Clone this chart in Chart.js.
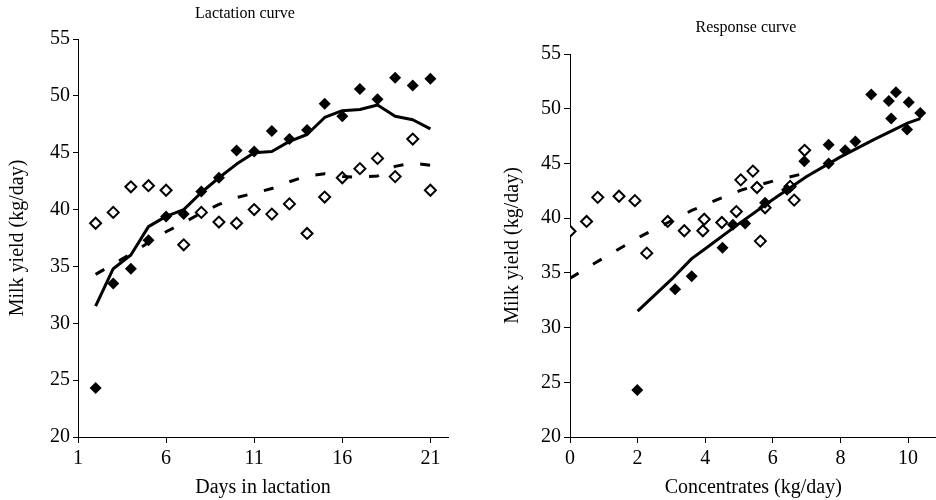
<!DOCTYPE html>
<html><head><meta charset="utf-8">
<script src="https://cdn.jsdelivr.net/npm/chart.js@4.4.1/dist/chart.umd.min.js"></script>
<style>
html,body{margin:0;padding:0;background:#fff;}
#wrap{position:relative;width:936px;height:500px;overflow:hidden;background:#fff;}
.c{position:absolute;top:0;width:468px;height:500px;}
</style></head><body>
<div id="wrap">
<div class="c" style="left:0"><canvas id="left"></canvas></div>
<div class="c" style="left:468px;width:476px"><canvas id="right"></canvas></div>
</div>
<script>
// ---------- Data: Lactation curve ----------
const lactDays = [2,3,4,5,6,7,8,9,10,11,12,13,14,15,16,17,18,19,20,21];
const lactFilled = [24.3,33.5,34.8,37.3,39.4,39.6,41.6,42.8,45.2,45.1,46.9,46.2,47.0,49.3,48.2,50.6,49.7,51.6,50.9,51.5];
const lactOpen = [38.8,39.75,42.0,42.1,41.7,36.9,39.75,38.9,38.8,40.0,39.6,40.5,37.9,41.1,42.8,43.6,44.5,42.9,46.2,41.7];
const lactFitFilled = [31.5,34.8,36.0,38.5,39.4,40.0,41.5,42.8,44.0,45.0,45.1,46.0,46.6,48.1,48.7,48.8,49.2,48.2,47.9,47.1];
const lactFitOpen = [34.3,35.2,36.1,37.1,38.05,38.85,39.7,40.45,41.05,41.45,41.85,42.45,42.95,43.15,42.9,42.85,42.95,43.8,44.1,43.9];
const lactXTicks = [1,6,11,16,21];
const yTicks = [20,25,30,35,40,45,50,55];

// ---------- Data: Response curve ----------
const respFilledConc = [1.99,3.11,3.6,4.51,4.82,5.18,5.77,6.42,6.93,7.65,7.65,8.14,8.44,8.91,9.43,9.5,9.64,9.97,10.02,10.36];
const respFilledYield = [24.3,33.5,34.7,37.3,39.4,39.5,41.4,42.6,45.2,45.0,46.7,46.2,47.0,51.3,50.7,49.1,51.5,48.1,50.6,49.6];
const respOpenConc = [0,0.49,0.82,1.45,1.92,2.27,2.89,3.38,3.93,3.97,4.49,4.92,5.05,5.41,5.53,5.63,5.77,6.51,6.63,6.94];
const respOpenYield = [38.8,39.7,41.9,42.0,41.6,36.8,39.7,38.85,38.85,39.9,39.6,40.6,43.5,44.3,42.8,37.9,40.95,42.9,41.65,46.2];
const respFitFilledConc = [2,3,3.6,4,5,6,7,8,9,10,10.36];
const respFitFilledYield = [31.5,34.4,36.3,37.2,39.5,41.7,43.8,45.6,47.2,48.7,49.1];
const respFitOpenConc = [0,0.74,1.46,2.16,2.9,3.6,4.32,5.1,6.02,6.94];
const respFitOpenYield = [34.5,35.9,37.2,38.45,39.6,40.7,41.65,42.6,43.4,44.1];
const respXTicks = [0,2,4,6,8,10];

const FONT = '"Liberation Serif", "Times New Roman", serif';
const tickFont = {family: FONT, size: 20};
const axisTitleFont = {family: FONT, size: 20};

function pts(xs, ys){ return xs.map((x,i)=>({x:x, y:ys[i]})); }

const titlePlugin = {
  id: 'ttl',
  afterDraw(chart, args, o) {
    const ctx = chart.ctx;
    ctx.save();
    ctx.font = o.size + 'px ' + FONT;
    ctx.fillStyle = '#000';
    ctx.textAlign = 'center';
    ctx.textBaseline = 'middle';
    ctx.fillText(o.text, o.x, o.y);
    ctx.restore();
  }
};

function datasets(fitF, fitO, filled, open){
  return [
    {data: fitF, showLine:true, borderColor:'#000', borderWidth:3, pointRadius:0, borderCapStyle:'butt', borderJoinStyle:'round', tension:0},
    {data: fitO, showLine:true, borderColor:'#000', borderWidth:3, pointRadius:0, borderDash:[10,17], borderCapStyle:'butt', tension:0},
    {data: filled, showLine:false, pointStyle:'rectRot', pointRadius:6, backgroundColor:'#000', borderColor:'#000', borderWidth:0},
    {data: open, showLine:false, pointStyle:'rectRot', pointRadius:5.5, backgroundColor:'#fff', borderColor:'#000', borderWidth:2}
  ];
}

function makeChart(id, o){
  return new Chart(document.getElementById(id), {
    type: 'scatter',
    data: { datasets: datasets(o.fitF, o.fitO, o.filled, o.open) },
    plugins: [titlePlugin],
    options: {
      responsive: true, maintainAspectRatio: false, animation: false, devicePixelRatio: 1,
      layout: { padding: { top: o.top, right: o.right, left: 0, bottom: 0 } },
      plugins: { legend: {display:false}, tooltip: {enabled:false}, ttl: o.title },
      scales: {
        x: {
          type: 'linear', min: o.xMin, max: o.xMax,
          afterBuildTicks: s => { s.ticks = o.xTicks.map(v => ({value: v})); },
          afterFit: s => { s.height = 63; s.paddingLeft = 0; s.paddingRight = 0; },
          grid: { display:true, drawOnChartArea:false, drawTicks:true, tickLength:6, color:'#000', lineWidth:1 },
          border: { display:true, color:'#000', width:1 },
          ticks: { color:'#000', font: tickFont, padding: 4, maxRotation:0, autoSkip:false },
          title: { display:true, text:o.xTitle, color:'#000', font: axisTitleFont, padding:{top:0, bottom:0} }
        },
        y: {
          type: 'linear', min: 20, max: 55,
          afterBuildTicks: s => { s.ticks = yTicks.map(v => ({value: v})); },
          afterFit: s => { s.width = o.yW; s.paddingTop = 0; s.paddingBottom = 0; },
          grid: { display:true, drawOnChartArea:false, drawTicks:true, tickLength:o.yTick, color:'#000', lineWidth:1 },
          border: { display:true, color:'#000', width:1 },
          ticks: { color:'#000', font: tickFont, padding: 3, autoSkip:false },
          title: { display:true, text:'Milk yield (kg/day)', color:'#000', font: axisTitleFont, padding:{top:o.yTitlePad, bottom:0} }
        }
      }
    }
  });
}

makeChart('left', {
  fitF: pts(lactDays, lactFitFilled), fitO: pts(lactDays, lactFitOpen),
  filled: pts(lactDays, lactFilled), open: pts(lactDays, lactOpen),
  top: 39, right: 20, yW: 78, yTick: 5, yTitlePad: 6,
  xMin: 1, xMax: 22, xTicks: lactXTicks, xTitle: 'Days in lactation',
  title: { text: 'Lactation curve', x: 245, y: 14, size: 16 }
});

makeChart('right', {
  fitF: pts(respFitFilledConc, respFitFilledYield), fitO: pts(respFitOpenConc, respFitOpenYield),
  filled: pts(respFilledConc, respFilledYield), open: pts(respOpenConc, respOpenYield),
  top: 54, right: 0, yW: 102, yTick: 6, yTitlePad: 33,
  xMin: 0, xMax: 10.84, xTicks: respXTicks, xTitle: 'Concentrates (kg/day)',
  title: { text: 'Response curve', x: 278, y: 28, size: 16 }
});
</script>
</body></html>
